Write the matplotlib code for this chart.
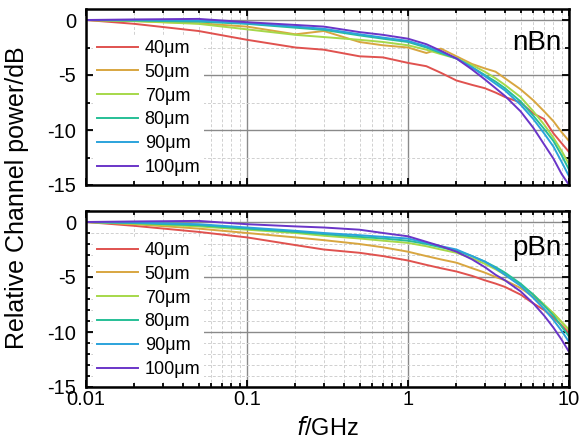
import matplotlib
matplotlib.use("Agg")
import matplotlib.pyplot as plt
from matplotlib.ticker import FixedLocator, FuncFormatter, MultipleLocator, LogLocator, NullFormatter

plt.rcParams['font.family'] = ['Liberation Sans', 'DejaVu Sans']
plt.rcParams['axes.unicode_minus'] = False

freq = [0.01, 0.02, 0.05, 0.1, 0.2, 0.3, 0.5, 0.7, 1, 1.3, 1.6, 2, 2.5, 3, 3.5, 4, 5, 6, 7, 8, 9, 10]
labels = ["40\u03bcm", "50\u03bcm", "70\u03bcm", "80\u03bcm", "90\u03bcm", "100\u03bcm"]
colors = ['#e0524f', '#d8a640', '#a6d84a', '#26bf96', '#2ba3dc', '#6a35c8']

nbn_40 = [0, -0.35, -1.0, -1.8, -2.5, -2.7, -3.3, -3.4, -3.9, -4.2, -4.8, -5.5, -5.9, -6.2, -6.6, -7.0, -7.5, -8.5, -9.0, -10.3, -11.2, -12.0]
nbn_50 = [0, -0.1, -0.3, -0.6, -1.3, -1.0, -2.0, -2.3, -2.5, -3.0, -2.6, -3.3, -4.0, -4.4, -4.7, -5.3, -6.3, -7.3, -8.3, -9.2, -10.2, -11.0]
nbn_70 = [0, -0.1, -0.35, -0.85, -1.35, -1.55, -1.8, -2.0, -2.3, -2.7, -3.1, -3.5, -4.1, -4.7, -5.3, -5.9, -7.0, -8.3, -9.5, -10.7, -11.9, -13.1]
nbn_80 = [0, -0.05, -0.15, -0.35, -0.7, -0.9, -1.4, -1.7, -2.0, -2.5, -3.0, -3.5, -4.3, -5.0, -5.6, -6.2, -7.4, -8.7, -9.9, -11.0, -12.3, -13.6]
nbn_90 = [0, 0, -0.05, -0.3, -0.6, -0.8, -1.3, -1.6, -1.9, -2.4, -2.9, -3.5, -4.3, -5.1, -5.8, -6.4, -7.7, -9.0, -10.3, -11.5, -12.9, -14.2]
nbn_100 = [0, 0.05, 0.1, -0.2, -0.45, -0.6, -1.1, -1.35, -1.7, -2.2, -2.8, -3.5, -4.5, -5.4, -6.2, -6.9, -8.3, -9.8, -11.3, -12.6, -14.0, -15.0]

pbn_40 = [0, -0.35, -0.9, -1.4, -2.1, -2.5, -2.8, -3.1, -3.5, -3.9, -4.2, -4.5, -4.9, -5.3, -5.6, -5.9, -6.6, -7.4, -8.0, -8.7, -9.4, -10.1]
pbn_50 = [0, -0.2, -0.6, -1.0, -1.4, -1.65, -2.0, -2.3, -2.7, -3.1, -3.4, -3.7, -4.2, -4.6, -5.0, -5.3, -6.0, -6.8, -7.6, -8.3, -9.1, -9.8]
pbn_70 = [0, -0.15, -0.4, -0.7, -1.0, -1.25, -1.5, -1.7, -1.9, -2.2, -2.5, -2.8, -3.3, -3.8, -4.3, -4.8, -5.7, -6.6, -7.5, -8.3, -9.1, -9.8]
pbn_80 = [0, -0.1, -0.3, -0.6, -0.9, -1.1, -1.35, -1.5, -1.7, -2.0, -2.3, -2.6, -3.1, -3.6, -4.1, -4.6, -5.6, -6.6, -7.6, -8.5, -9.5, -10.4]
pbn_90 = [0, -0.05, -0.2, -0.5, -0.8, -1.0, -1.2, -1.35, -1.5, -1.9, -2.2, -2.5, -3.1, -3.6, -4.2, -4.8, -5.8, -6.9, -7.9, -8.9, -9.9, -10.9]
pbn_100 = [0, 0.05, 0.1, -0.2, -0.4, -0.5, -0.7, -1.0, -1.3, -1.8, -2.2, -2.7, -3.4, -4.1, -4.8, -5.3, -6.3, -7.4, -8.5, -9.6, -10.7, -11.8]

panels = [
    ("nBn", [nbn_40, nbn_50, nbn_70, nbn_80, nbn_90, nbn_100], 2.5, 0.807),
    ("pBn", [pbn_40, pbn_50, pbn_70, pbn_80, pbn_90, pbn_100], 1.0, 0.79),
]

fig = plt.figure(figsize=(5.82, 4.45), dpi=100)
W, H = 582, 445
rects = [
    [86 / W, 1 - 185 / H, (569 - 86) / W, 176 / H],
    [86 / W, 1 - 387 / H, (569 - 86) / W, 176 / H],
]

axes = []
for i, (name, series, yminor, ty) in enumerate(panels):
    ax = fig.add_axes(rects[i])
    axes.append(ax)
    for vals, lab, c in zip(series, labels, colors):
        ax.plot(freq, vals, color=c, lw=1.4, label=lab)
    ax.set_xscale('log')
    ax.set_xlim(0.01, 10)
    ax.set_ylim(-15, 1)
    ax.yaxis.set_major_locator(FixedLocator([0, -5, -10, -15]))
    ax.yaxis.set_minor_locator(MultipleLocator(yminor))
    ax.xaxis.set_major_locator(FixedLocator([0.01, 0.1, 1, 10]))
    ax.xaxis.set_minor_locator(LogLocator(base=10, subs=range(2, 10)))
    ax.xaxis.set_minor_formatter(NullFormatter())
    if i == 0:
        ax.xaxis.set_major_formatter(NullFormatter())
    else:
        ax.xaxis.set_major_formatter(FuncFormatter(lambda v, p: '%g' % v))
    ax.grid(which='major', color='#8a8a8a', lw=1.0, ls='-')
    ax.grid(which='minor', color='#d0d0d0', lw=0.7, ls=(0, (3, 2)))
    ax.set_axisbelow(True)
    ax.tick_params(which='both', direction='in', top=True, right=True,
                   labelsize=14.5, width=1.3, colors='black')
    ax.tick_params(which='major', length=5)
    ax.tick_params(which='minor', length=3)
    ax.tick_params(axis='y', which='major', pad=7)
    ax.tick_params(axis='x', which='major', pad=2)
    for s in ax.spines.values():
        s.set_linewidth(1.8)
    leg = ax.legend(loc='upper left', bbox_to_anchor=(0.015, 0.845), frameon=True,
                    fontsize=13, handlelength=2.3, handletextpad=0.35,
                    labelspacing=0.38, borderpad=0.2, borderaxespad=0.0)
    leg.get_frame().set_edgecolor('none')
    leg.get_frame().set_facecolor('white')
    leg.get_frame().set_alpha(1)
    ax.text(0.985, ty, name, transform=ax.transAxes, ha='right', va='center',
            fontsize=20, color='black')

axes[1].set_xlabel(r'$\mathit{f}$/GHz', fontsize=17, labelpad=6)
fig.text(0.03, (1 - 387 / H + 1 - 9 / H) / 2, 'Relative Channel power/dB',
         rotation=90, ha='center', va='center', fontsize=18)

fig.savefig('out.png', dpi=100)
